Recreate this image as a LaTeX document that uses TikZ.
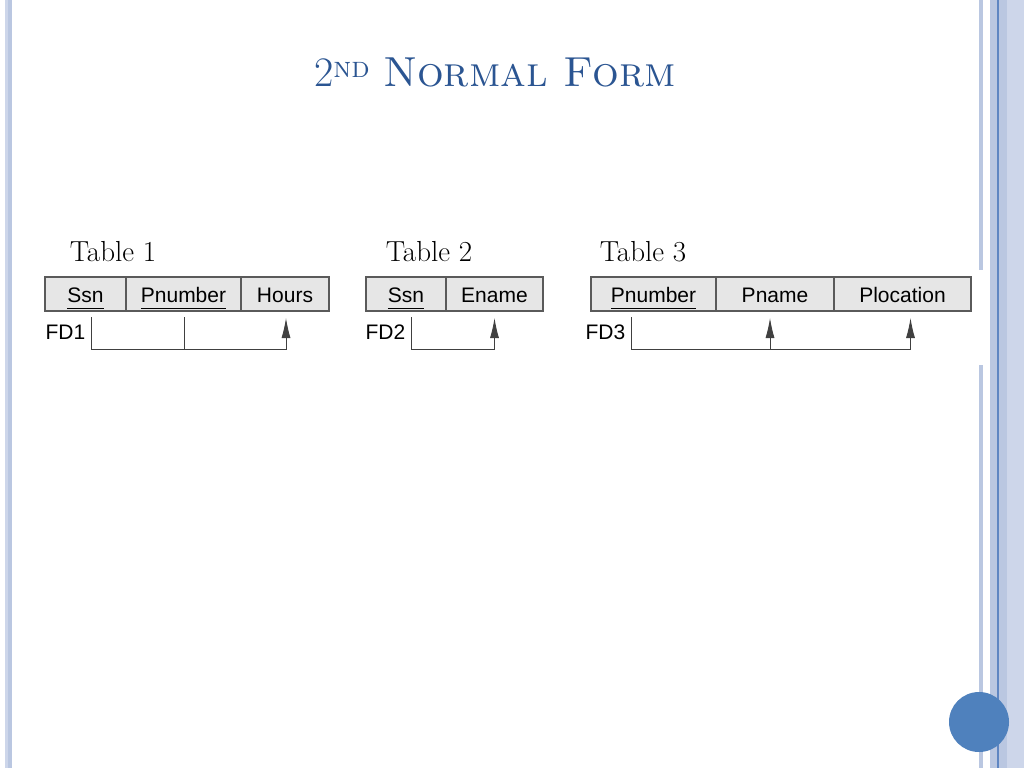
\documentclass[tikz,border=0pt]{standalone}
\usepackage{fontspec}
\newfontfamily\tabfont{Liberation Sans}
\usepackage{tikz}
\usetikzlibrary{positioning,arrows.meta,calc}
\definecolor{titleblue}{HTML}{2B5592}
\definecolor{cellgray}{HTML}{E6E6E6}
\definecolor{cellborder}{HTML}{5A5A5A}
\definecolor{stripelight}{HTML}{CDD6EA}
\definecolor{stripemid}{HTML}{BAC7E1}
\definecolor{stripedark}{HTML}{5F86C2}
\definecolor{dotblue}{HTML}{4F81BD}
\newcommand{\keyattr}[1]{\underline{#1\vphantom{p}}}

\begin{document}
\begin{tikzpicture}[x=1pt, y=-1pt,
    cell/.style={rectangle, draw=cellborder, fill=cellgray, line width=1.2pt,
      minimum height=34pt, inner sep=0pt, outer sep=0pt,
      text height=16pt, text depth=0pt,
      font=\tabfont\fontsize{21}{25}\selectfont},
    tablabel/.style={font=\fontsize{29}{34}\selectfont},
    fdlabel/.style={anchor=west, font=\tabfont\fontsize{21}{25}\selectfont},
    fdline/.style={draw=black!75, line width=0.9pt},
    fdarrow/.style={fdline, -{Latex[length=20pt, width=9pt]}}]

  \useasboundingbox (0,0) rectangle (1024,768);
  \fill[white] (0,0) rectangle (1024,768);

  % Slide frame
  \fill[stripelight] (5,0) rectangle (8,768);
  \fill[stripemid] (8,0) rectangle (12,768);
  \fill[stripemid] (979,0) rectangle (983,270);
  \fill[stripemid] (979,365) rectangle (983,768);
  \fill[stripemid] (990,0) rectangle (1024,768);
  \fill[stripelight] (1007,0) rectangle (1024,768);
  \draw[stripedark, line width=1.5pt] (998,0) -- (998,768);
  \fill[dotblue] (979,722) circle (30);

  % Title
  \node[font=\fontsize{42}{48}\selectfont, text=titleblue] (title) at (495,72)
    {2\textsuperscript{\textsc{nd}} \textsc{Normal Form}};

  % Table 1
  \node[tablabel] (lab1) at (113,252) {Table 1};
  \node[cell, minimum width=81pt, anchor=north west] (t1ssn) at (45,277) {\keyattr{Ssn}};
  \node[cell, minimum width=115pt, right=0pt of t1ssn] (t1pno) {\keyattr{Pnumber}};
  \node[cell, minimum width=88pt, right=0pt of t1pno] (t1hrs) {Hours};
  \node[fdlabel] (fd1) at (42,332) {FD1};

  % Table 2
  \node[tablabel] (lab2) at (429,252) {Table 2};
  \node[cell, minimum width=80pt, anchor=north west] (t2ssn) at (366,277) {\keyattr{Ssn}};
  \node[cell, minimum width=97pt, right=0pt of t2ssn] (t2ena) {Ename};
  \node[fdlabel] (fd2) at (362,332) {FD2};

  % Table 3
  \node[tablabel] (lab3) at (643,252) {Table 3};
  \node[cell, minimum width=125pt, anchor=north west] (t3pno) at (591,277) {\keyattr{Pnumber}};
  \node[cell, minimum width=118pt, right=0pt of t3pno] (t3nam) {Pname};
  \node[cell, minimum width=137pt, right=0pt of t3nam] (t3loc) {Plocation};
  \node[fdlabel] (fd3) at (582,332) {FD3};

  % Dependencies
  \coordinate (fd1a) at (91,317);
  \coordinate (fd1b) at (184,317);
  \draw[fdarrow] (fd1a) -- ++(0,32) -| ($(t1hrs.south)+(1,7)$);
  \draw[fdline] (fd1b) -- ++(0,32);

  \coordinate (fd2a) at (411,317);
  \draw[fdarrow] (fd2a) -- ++(0,32) -| ($(t2ena.south)+(0,7)$);

  \coordinate (fd3a) at (631,317);
  \draw[fdarrow] (fd3a) -- ++(0,32) -| ($(t3loc.south)+(8,7)$);
  \draw[fdarrow] ($(t3nam.south)+(-5,38)$) -- ($(t3nam.south)+(-5,7)$);

\end{tikzpicture}
\end{document}
